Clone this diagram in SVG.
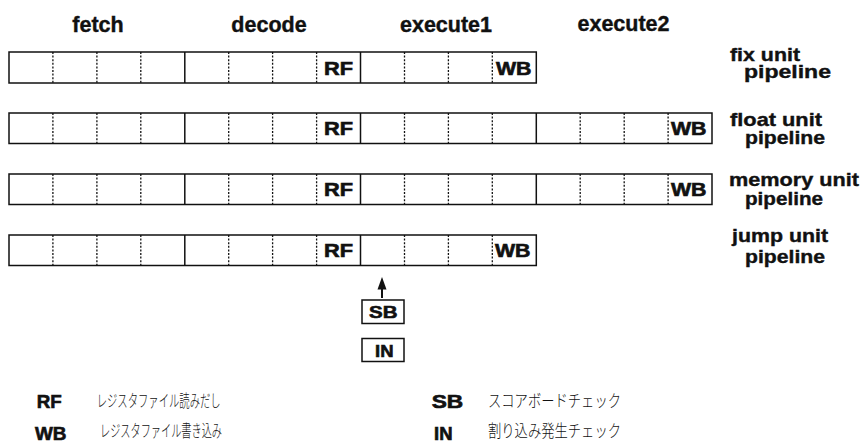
<svg xmlns="http://www.w3.org/2000/svg" width="862" height="442" viewBox="0 0 862 442">
<style>
.bg{fill:#fff}
.box{fill:#fff;stroke:#111;stroke-width:1.5}
.sep{stroke:#111;stroke-width:1.5;fill:none}
.dot{stroke:#111;stroke-width:1.3;stroke-dasharray:2 1.6;fill:none}
.h{font-family:"Liberation Sans",Arial,sans-serif;font-weight:bold;font-size:21.5px;text-anchor:middle;fill:#111;stroke:#111;stroke-width:0.4}
.c{font-family:"Liberation Sans",Arial,sans-serif;font-weight:bold;font-size:17.5px;fill:#111;stroke:#111;stroke-width:0.6}
.l{font-family:"Liberation Sans",Arial,sans-serif;font-weight:bold;font-size:19px;fill:#111;stroke:#111;stroke-width:0.4}
.j{font-family:"Noto Sans CJK JP",sans-serif;font-size:16.5px;font-weight:300;fill:#111}
.arrow{stroke:#111;stroke-width:2;fill:none}
.head{fill:#111}
</style>
<rect class="bg" x="0" y="0" width="862" height="442"/>

<g id="headers">
<text class="h" x="98" y="31.5">fetch</text>
<text class="h" x="269" y="31.5">decode</text>
<text class="h" x="446" y="31.5">execute1</text>
<text class="h" x="623.5" y="31">execute2</text>
</g>

<g id="fix-unit">
<rect class="box" x="9" y="52" width="527.3" height="31"/>
<path class="sep" d="M184.8 52V83M360.5 52V83"/>
<path class="dot" d="M52.9 52V83M96.9 52V83M140.8 52V83M228.7 52V83M272.6 52V83M316.6 52V83M404.5 52V83M448.4 52V83M492.3 52V83"/>
<text class="c" x="324" y="74.5" textLength="29" lengthAdjust="spacingAndGlyphs">RF</text>
<text class="c" x="496" y="74.5" textLength="35.5" lengthAdjust="spacingAndGlyphs">WB</text>
<text class="l" x="730" y="60.5" textLength="70" lengthAdjust="spacingAndGlyphs">fix unit</text>
<text class="l" x="744" y="78" textLength="87" lengthAdjust="spacingAndGlyphs">pipeline</text>
</g>

<g id="float-unit">
<rect class="box" x="9" y="113" width="703" height="30.5"/>
<path class="sep" d="M184.8 113V143.5M360.5 113V143.5M536.3 113V143.5"/>
<path class="dot" d="M52.9 113V143.5M96.9 113V143.5M140.8 113V143.5M228.7 113V143.5M272.6 113V143.5M316.6 113V143.5M404.5 113V143.5M448.4 113V143.5M492.3 113V143.5M580.2 113V143.5M624.2 113V143.5M668.1 113V143.5"/>
<text class="c" x="324" y="135" textLength="29" lengthAdjust="spacingAndGlyphs">RF</text>
<text class="c" x="671" y="135" textLength="35.5" lengthAdjust="spacingAndGlyphs">WB</text>
<text class="l" x="730" y="126" textLength="92" lengthAdjust="spacingAndGlyphs">float unit</text>
<text class="l" x="745" y="144" textLength="80" lengthAdjust="spacingAndGlyphs">pipeline</text>
</g>

<g id="memory-unit">
<rect class="box" x="9" y="174" width="703" height="30.5"/>
<path class="sep" d="M184.8 174V204.5M360.5 174V204.5M536.3 174V204.5"/>
<path class="dot" d="M52.9 174V204.5M96.9 174V204.5M140.8 174V204.5M228.7 174V204.5M272.6 174V204.5M316.6 174V204.5M404.5 174V204.5M448.4 174V204.5M492.3 174V204.5M580.2 174V204.5M624.2 174V204.5M668.1 174V204.5"/>
<text class="c" x="324" y="196" textLength="29" lengthAdjust="spacingAndGlyphs">RF</text>
<text class="c" x="671" y="196" textLength="35.5" lengthAdjust="spacingAndGlyphs">WB</text>
<text class="l" x="729" y="186" textLength="130" lengthAdjust="spacingAndGlyphs">memory unit</text>
<text class="l" x="745" y="204.5" textLength="78" lengthAdjust="spacingAndGlyphs">pipeline</text>
</g>

<g id="jump-unit">
<rect class="box" x="9" y="235" width="527.3" height="30.5"/>
<path class="sep" d="M184.8 235V265.5M360.5 235V265.5"/>
<path class="dot" d="M52.9 235V265.5M96.9 235V265.5M140.8 235V265.5M228.7 235V265.5M272.6 235V265.5M316.6 235V265.5M404.5 235V265.5M448.4 235V265.5M492.3 235V265.5"/>
<text class="c" x="324" y="257" textLength="29" lengthAdjust="spacingAndGlyphs">RF</text>
<text class="c" x="495" y="257" textLength="35.5" lengthAdjust="spacingAndGlyphs">WB</text>
<text class="l" x="732" y="242" textLength="96" lengthAdjust="spacingAndGlyphs">jump unit</text>
<text class="l" x="745" y="262.5" textLength="80" lengthAdjust="spacingAndGlyphs">pipeline</text>
</g>

<g id="connectors">
<line class="arrow" x1="382" y1="298" x2="382" y2="287"/>
<polygon class="head" points="382,277 377.5,289.5 386.5,289.5"/>
</g>

<g id="SB">
<rect class="box" x="362" y="300" width="42" height="23.5"/>
<text class="c" x="369" y="318" style="font-size:17px" textLength="28.5" lengthAdjust="spacingAndGlyphs">SB</text>
</g>

<g id="IN">
<rect class="box" x="362" y="338.5" width="42" height="23"/>
<text class="c" x="375" y="356.8" style="font-size:17px" textLength="18.5" lengthAdjust="spacingAndGlyphs">IN</text>
</g>

<g id="legend">
<text class="c" x="36.7" y="408.3" textLength="25" lengthAdjust="spacingAndGlyphs">RF</text>
<text class="j" x="96.7" y="406.5" textLength="124" lengthAdjust="spacingAndGlyphs">レジスタファイル読みだし</text>
<text class="c" x="35" y="439.5" textLength="31.5" lengthAdjust="spacingAndGlyphs">WB</text>
<text class="j" x="100" y="436.5" textLength="122" lengthAdjust="spacingAndGlyphs">レジスタファイル書き込み</text>
<text class="c" x="431.7" y="408.3" textLength="31.5" lengthAdjust="spacingAndGlyphs">SB</text>
<text class="j" x="488" y="406.5" textLength="133" lengthAdjust="spacingAndGlyphs">スコアボードチェック</text>
<text class="c" x="434" y="439.5" textLength="18.5" lengthAdjust="spacingAndGlyphs">IN</text>
<text class="j" x="488" y="436.5" textLength="133" lengthAdjust="spacingAndGlyphs">割り込み発生チェック</text>
</g>
</svg>
